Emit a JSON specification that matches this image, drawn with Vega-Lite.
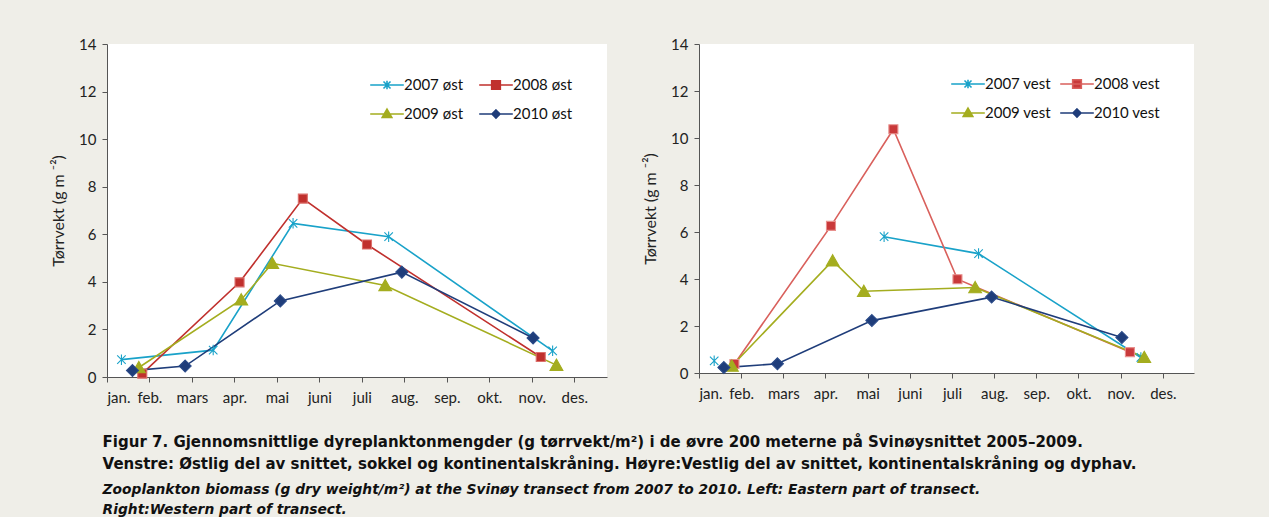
{
  "$schema": "https://vega.github.io/schema/vega-lite/v6.json",
  "background": "#efeee8",
  "padding": {"left": 50, "top": 37, "right": 84, "bottom": 2},
  "config": {
    "font": "Lato",
    "view": {"fill": "white", "stroke": null},
    "axis": {"domainColor": "#555555", "tickColor": "#555555", "tickSize": 5, "labelFont": "Lato", "labelFontSize": 15, "labelColor": "#222222", "titleFont": "Lato", "titleFontSize": 16, "titleFontWeight": "normal", "titleColor": "#222222", "grid": false},
    "legend": {"labelFont": "Lato", "labelFontSize": 15, "labelColor": "#111111"}
  },
  "datasets": {
    "east": [
      {"series": "2007 øst", "seg": "a", "m": 0.34, "v": 0.73},
      {"series": "2007 øst", "seg": "a", "m": 2.50, "v": 1.13},
      {"series": "2007 øst", "seg": "a", "m": 4.38, "v": 6.46},
      {"series": "2007 øst", "seg": "a", "m": 6.63, "v": 5.90},
      {"series": "2007 øst", "seg": "a", "m": 10.49, "v": 1.10},
      {"series": "2008 øst", "seg": "a", "m": 0.83, "v": 0.14},
      {"series": "2008 øst", "seg": "a", "m": 3.12, "v": 3.98},
      {"series": "2008 øst", "seg": "a", "m": 4.61, "v": 7.50},
      {"series": "2008 øst", "seg": "a", "m": 6.12, "v": 5.57},
      {"series": "2008 øst", "seg": "a", "m": 10.21, "v": 0.84},
      {"series": "2009 øst", "seg": "a", "m": 0.75, "v": 0.40},
      {"series": "2009 øst", "seg": "a", "m": 3.16, "v": 3.25},
      {"series": "2009 øst", "seg": "a", "m": 3.89, "v": 4.78},
      {"series": "2009 øst", "seg": "a", "m": 6.55, "v": 3.85},
      {"series": "2009 øst", "seg": "a", "m": 10.58, "v": 0.50},
      {"series": "2010 øst", "seg": "a", "m": 0.60, "v": 0.27},
      {"series": "2010 øst", "seg": "a", "m": 1.84, "v": 0.46},
      {"series": "2010 øst", "seg": "a", "m": 4.08, "v": 3.20},
      {"series": "2010 øst", "seg": "a", "m": 6.94, "v": 4.41},
      {"series": "2010 øst", "seg": "a", "m": 10.03, "v": 1.64}
    ],
    "west": [
      {"series": "2007 vest", "seg": "a", "m": 0.36, "v": 0.52},
      {"series": "2007 vest", "seg": "b", "m": 4.39, "v": 5.80},
      {"series": "2007 vest", "seg": "b", "m": 6.63, "v": 5.08},
      {"series": "2007 vest", "seg": "b", "m": 10.48, "v": 0.66},
      {"series": "2008 vest", "seg": "a", "m": 0.84, "v": 0.38},
      {"series": "2008 vest", "seg": "a", "m": 3.13, "v": 6.26},
      {"series": "2008 vest", "seg": "a", "m": 4.61, "v": 10.37},
      {"series": "2008 vest", "seg": "a", "m": 6.13, "v": 3.99},
      {"series": "2008 vest", "seg": "a", "m": 10.22, "v": 0.89},
      {"series": "2009 vest", "seg": "a", "m": 0.78, "v": 0.30},
      {"series": "2009 vest", "seg": "a", "m": 3.17, "v": 4.78},
      {"series": "2009 vest", "seg": "a", "m": 3.91, "v": 3.48},
      {"series": "2009 vest", "seg": "a", "m": 6.55, "v": 3.64},
      {"series": "2009 vest", "seg": "a", "m": 10.56, "v": 0.67},
      {"series": "2010 vest", "seg": "a", "m": 0.59, "v": 0.23},
      {"series": "2010 vest", "seg": "a", "m": 1.86, "v": 0.39},
      {"series": "2010 vest", "seg": "a", "m": 4.10, "v": 2.23},
      {"series": "2010 vest", "seg": "a", "m": 6.94, "v": 3.23},
      {"series": "2010 vest", "seg": "a", "m": 10.03, "v": 1.51}
    ]
  },
  "title": {
    "text": ["Figur 7. Gjennomsnittlige dyreplanktonmengder (g tørrvekt/m²) i de øvre 200 meterne på Svinøysnittet 2005–2009.", "Venstre: Østlig del av snittet, sokkel og kontinentalskråning. Høyre:Vestlig del av snittet, kontinentalskråning og dyphav."],
    "subtitle": ["Zooplankton biomass (g dry weight/m²) at the Svinøy transect from 2007 to 2010. Left: Eastern part of transect.", "Right:Western part of transect."],
    "orient": "bottom", "anchor": "start", "frame": "bounds", "offset": 30, "dx": 52,
    "font": "DejaVu Sans", "fontSize": 15, "fontWeight": "bold", "color": "#111111", "lineHeight": 22,
    "subtitleFont": "DejaVu Sans", "subtitleFontSize": 13.8, "subtitleFontWeight": "bold", "subtitleFontStyle": "italic", "subtitleColor": "#111111", "subtitleLineHeight": 20, "subtitlePadding": 11
  },
  "spacing": 35,
  "resolve": {"scale": {"color": "independent", "fill": "independent", "stroke": "independent", "shape": "independent"}},
  "hconcat": [
    {
      "width": 500, "height": 333,
      "data": {"name": "east"},
      "encoding": {
        "x": {"field": "m", "type": "quantitative", "scale": {"domain": [0, 11.77], "nice": false, "zero": false},
              "axis": {"values": [0,1,2,3,4,5,6,7,8,9,10,11], "labelExpr": "['jan.','feb.','mars','apr.','mai','juni','juli','aug.','sep.','okt.','nov.','des.'][datum.value]", "title": null, "labelPadding": 8, "labelDx": 3}},
        "y": {"field": "v", "type": "quantitative", "scale": {"domain": [0, 14], "nice": false},
              "axis": {"values": [0,2,4,6,8,10,12,14], "title": "Tørrvekt (g m ⁻²)", "titlePadding": 12, "labelPadding": 6}}
      },
      "resolve": {"scale": {"shape": "independent", "fill": "independent", "stroke": "independent"}},
      "layer": [
        {
          "mark": {"type": "line", "strokeWidth": 1.6},
          "encoding": {
            "color": {"field": "series", "type": "nominal", "legend": null,
              "scale": {"domain": ["2007 øst", "2008 øst", "2009 øst", "2010 øst"], "range": ["#19a2c9", "#c0302d", "#a4ad1f", "#1f3d7a"]}},
            "detail": {"field": "seg", "type": "nominal"}
          }
        },
        {
          "mark": {"type": "point", "filled": true, "opacity": 1, "size": 100, "strokeWidth": 1.1},
          "encoding": {
            "shape": {"field": "series", "type": "nominal", "legend": null,
              "scale": {"domain": ["2007 øst", "2008 øst", "2009 øst", "2010 øst"], "range": ["M0,-1.05V1.05M-0.85,-0.85L0.85,0.85M-0.85,0.85L0.85,-0.85", "M-0.9,-0.9H0.9V0.9H-0.9Z", "M0,-1.2L1.28,1.05H-1.28Z", "M0,-1.2L1.2,0L0,1.2L-1.2,0Z"]}},
            "fill": {"field": "series", "type": "nominal", "legend": null,
              "scale": {"domain": ["2007 øst", "2008 øst", "2009 øst", "2010 øst"], "range": ["#19a2c9", "#c0302d", "#a4ad1f", "#1f3d7a"]}},
            "stroke": {"field": "series", "type": "nominal", "legend": null,
              "scale": {"domain": ["2007 øst", "2008 øst", "2009 øst", "2010 øst"], "range": ["#19a2c9", "#dc6f6b", "#a4ad1f", "#2a4a88"]}}
          }
        },
        {
          "mark": {"type": "point", "opacity": 0},
          "encoding": {
            "shape": {"field": "series", "type": "nominal",
              "scale": {"domain": ["2007 øst", "2009 øst", "2008 øst", "2010 øst"], "range": ["M-1.05,0H1.05M0,-0.26V0.26M-0.22,-0.22L0.22,0.22M-0.22,0.22L0.22,-0.22", "M-1.05,0H1.05M0,-0.3L0.3,0.22H-0.3Z", "M-1.05,0H1.05M-0.27,-0.27H0.27V0.27H-0.27Z", "M-1.05,0H1.05M0,-0.25L0.25,0L0,0.25L-0.25,0Z"]},
              "legend": {"orient": "none", "legendX": 263, "legendY": 24, "columns": 2, "title": null, "symbolSize": 1024, "labelOffset": 0, "columnPadding": 12, "rowPadding": 4, "symbolStrokeWidth": 1.6, "symbolOpacity": 1}},
            "fill": {"field": "series", "type": "nominal", "legend": null,
              "scale": {"domain": ["2007 øst", "2009 øst", "2008 øst", "2010 øst"], "range": ["#19a2c9", "#a4ad1f", "#c0302d", "#1f3d7a"]}},
            "stroke": {"field": "series", "type": "nominal", "legend": null,
              "scale": {"domain": ["2007 øst", "2009 øst", "2008 øst", "2010 øst"], "range": ["#19a2c9", "#a4ad1f", "#c0302d", "#1f3d7a"]}}
          }
        }
      ]
    },
    {
      "width": 495, "height": 329,
      "data": {"name": "west"},
      "encoding": {
        "x": {"field": "m", "type": "quantitative", "scale": {"domain": [0, 11.74], "nice": false, "zero": false},
              "axis": {"values": [0,1,2,3,4,5,6,7,8,9,10,11], "labelExpr": "['jan.','feb.','mars','apr.','mai','juni','juli','aug.','sep.','okt.','nov.','des.'][datum.value]", "title": null, "labelPadding": 8, "labelDx": 3}},
        "y": {"field": "v", "type": "quantitative", "scale": {"domain": [0, 14], "nice": false},
              "axis": {"values": [0,2,4,6,8,10,12,14], "title": "Tørrvekt (g m ⁻²)", "titlePadding": 12, "labelPadding": 6}}
      },
      "resolve": {"scale": {"shape": "independent", "fill": "independent", "stroke": "independent"}},
      "layer": [
        {
          "mark": {"type": "line", "strokeWidth": 1.6},
          "encoding": {
            "color": {"field": "series", "type": "nominal", "legend": null,
              "scale": {"domain": ["2007 vest", "2008 vest", "2009 vest", "2010 vest"], "range": ["#19a2c9", "#d9605c", "#a4ad1f", "#1f3d7a"]}},
            "detail": {"field": "seg", "type": "nominal"}
          }
        },
        {
          "mark": {"type": "point", "filled": true, "opacity": 1, "size": 100, "strokeWidth": 1.1},
          "encoding": {
            "shape": {"field": "series", "type": "nominal", "legend": null,
              "scale": {"domain": ["2007 vest", "2008 vest", "2009 vest", "2010 vest"], "range": ["M0,-1.05V1.05M-0.85,-0.85L0.85,0.85M-0.85,0.85L0.85,-0.85", "M-0.9,-0.9H0.9V0.9H-0.9Z", "M0,-1.2L1.28,1.05H-1.28Z", "M0,-1.2L1.2,0L0,1.2L-1.2,0Z"]}},
            "fill": {"field": "series", "type": "nominal", "legend": null,
              "scale": {"domain": ["2007 vest", "2008 vest", "2009 vest", "2010 vest"], "range": ["#19a2c9", "#c9393a", "#a4ad1f", "#1f3d7a"]}},
            "stroke": {"field": "series", "type": "nominal", "legend": null,
              "scale": {"domain": ["2007 vest", "2008 vest", "2009 vest", "2010 vest"], "range": ["#19a2c9", "#e8908d", "#a4ad1f", "#2a4a88"]}}
          }
        },
        {
          "mark": {"type": "point", "opacity": 0},
          "encoding": {
            "shape": {"field": "series", "type": "nominal",
              "scale": {"domain": ["2007 vest", "2009 vest", "2008 vest", "2010 vest"], "range": ["M-1.05,0H1.05M0,-0.26V0.26M-0.22,-0.22L0.22,0.22M-0.22,0.22L0.22,-0.22", "M-1.05,0H1.05M0,-0.3L0.3,0.22H-0.3Z", "M-1.05,0H1.05M-0.27,-0.27H0.27V0.27H-0.27Z", "M-1.05,0H1.05M0,-0.25L0.25,0L0,0.25L-0.25,0Z"]},
              "legend": {"orient": "none", "legendX": 252, "legendY": 23, "columns": 2, "title": null, "symbolSize": 1024, "labelOffset": 0, "columnPadding": 6, "rowPadding": 4, "symbolStrokeWidth": 1.6, "symbolOpacity": 1}},
            "fill": {"field": "series", "type": "nominal", "legend": null,
              "scale": {"domain": ["2007 vest", "2009 vest", "2008 vest", "2010 vest"], "range": ["#19a2c9", "#a4ad1f", "#c9393a", "#1f3d7a"]}},
            "stroke": {"field": "series", "type": "nominal", "legend": null,
              "scale": {"domain": ["2007 vest", "2009 vest", "2008 vest", "2010 vest"], "range": ["#19a2c9", "#a4ad1f", "#d9605c", "#1f3d7a"]}}
          }
        }
      ]
    }
  ]
}
